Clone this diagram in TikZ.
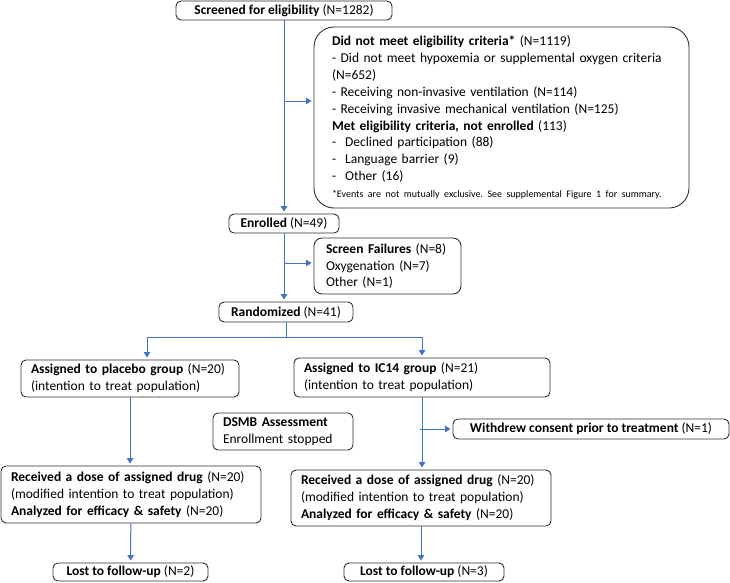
\documentclass[tikz,border=0pt]{standalone}
\usepackage{fontspec}
\setmainfont{Carlito}
\usetikzlibrary{arrows.meta}
\frenchspacing

\definecolor{flowblue}{RGB}{68,114,196}
\definecolor{boxline}{RGB}{45,45,45}
\newcommand{\scale}{1}
\newcommand{\fnote}{\fontsize{10}{12}\selectfont}

\tikzset{
  box/.style = {draw = boxline, line width = 0.9pt, rounded corners = 5pt, inner xsep = 10pt, inner ysep = 0pt, align = left},
  arr/.style = {draw = flowblue, line width = 1pt, -{Triangle[length = 5.5pt, width = 6.5pt]}, shorten > = 2pt},
  ln/.style = {draw = flowblue, line width = 1pt},
}

\begin{document}
\begin{tikzpicture}[x = \scale pt, y = -\scale pt, font = \fontsize{13.5}{16.9}\selectfont]
\useasboundingbox (0,0) rectangle (730,582);

\node [box, minimum width = 216pt, minimum height = 19pt, align = center] (v1) at (284,10.5) {\textbf{Screened for eligibility} (N=1282)};
\node [box, rounded corners = 20pt, inner xsep = 18pt, text width = 339pt, minimum height = 181pt] (v2) at (501.5,117.5) {\textbf{Did not meet eligibility criteria*} (N=1119)\\
- Did not meet hypoxemia or supplemental oxygen criteria\\
(N=652)\\
- Receiving non-invasive ventilation (N=114)\\
- Receiving invasive mechanical ventilation (N=125)\\
\textbf{Met eligibility criteria, not enrolled} (113)\\
-\ \ Declined participation (88)\\
-\ \ Language barrier (9)\\
-\ \ Other (16)\\
{\fnote *Events are not mutually exclusive. See supplemental Figure 1 for summary.}};
\node [box, minimum width = 110pt, minimum height = 19pt, align = center] (v3) at (284,223.5) {\textbf{Enrolled} (N=49)};
\node [box, rounded corners = 8pt, inner xsep = 12pt, text width = 123pt, minimum height = 56pt] (v4) at (387.5,266) {\textbf{Screen Failures} (N=8)\\
Oxygenation (N=7)\\
Other (N=1)};
\node [box, minimum width = 134pt, minimum height = 20pt, align = center] (v5) at (286,312) {\textbf{Randomized} (N=41)};

\node [box, text width = 198pt, minimum height = 37pt] (v6) at (130,378.5) {\textbf{Assigned to placebo group} (N=20)\\
(intention to treat population)};
\node [box, text width = 236pt, minimum height = 39pt] (v7) at (422,377.5) {\textbf{Assigned to IC14 group} (N=21)\\
(intention to treat population)};
\node [box, text width = 120pt, minimum height = 37pt] (v8) at (283,431.5) {\textbf{DSMB Assessment}\\
Enrollment stopped};
\node [box, minimum width = 276pt, minimum height = 20pt, align = center] (v9) at (591,429) {\textbf{Withdrew consent prior to treatment} (N=1)};

\node [box, text width = 240pt, minimum height = 57pt] (v10) at (131,494.5) {\textbf{Received a dose of assigned drug} (N=20)\\
(modified intention to treat population)\\
\textbf{Analyzed for efficacy \& safety} (N=20)};
\node [box, text width = 240pt, minimum height = 56pt] (v11) at (421,498) {\textbf{Received a dose of assigned drug} (N=20)\\
(modified intention to treat population)\\
\textbf{Analyzed for efficacy \& safety} (N=20)};
\node [box, minimum width = 155pt, minimum height = 18pt, align = center] (v12) at (130.5,572) {\textbf{Lost to follow-up} (N=2)};
\node [box, minimum width = 160pt, minimum height = 18pt, align = center] (v13) at (424,572) {\textbf{Lost to follow-up} (N=3)};

\coordinate (s1) at (284,101);
\coordinate (s2) at (284,263);
\coordinate (s3) at (286,337);
\coordinate (s4) at (420,429);

\draw [arr] (v1) -- (v3);
\draw [arr] (s1) -- (s1 -| v2.west);
\draw [arr] (v3) -- (v5.north -| v3);
\draw [arr] (s2) -- (s2 -| v4.west);
\draw [ln] (v5.south) -- (s3);
\draw [arr] (s3) -| ([xshift = 17pt]v6.north);
\draw [arr] (s3) -| (v7.north);
\draw [arr] (v6.south) -- (v6.south |- v10.north);
\draw [arr] (v7.south) -- (v7.south |- v11.north);
\draw [arr] (s4) -- (v9.west);
\draw [arr] (v10) -- (v12);
\draw [arr] (v11.south) -- (v11.south |- v13.north);
\end{tikzpicture}
\end{document}
